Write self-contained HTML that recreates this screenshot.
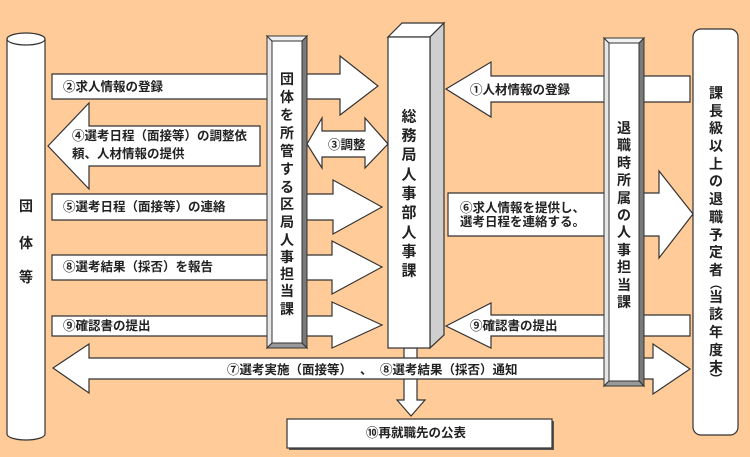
<!DOCTYPE html>
<html><head><meta charset="utf-8"><style>
html,body{margin:0;padding:0;background:#FFCC99;}
svg{display:block;}
text{font-family:"Liberation Sans","Noto Sans CJK JP",sans-serif;fill:#222;font-weight:bold;}
.h{font-size:12.5px;dominant-baseline:central;}
.v{font-size:14px;text-anchor:middle;dominant-baseline:central;}
</style></head><body>
<svg width="750" height="457" viewBox="0 0 750 457" xmlns="http://www.w3.org/2000/svg">
<rect x="0" y="0" width="750" height="457" fill="#FFCC99"/>
<g stroke="#333" stroke-width="1.2" fill="#fff" stroke-linejoin="miter">
<path d="M7,39 V434 A19,6 0 0 0 45,434 V39 Z"/>
<ellipse cx="26" cy="39" rx="19" ry="6"/>
<path d="M52,74 H340 V56 L378,86 L340,115 V99 H52 Z"/>
<path d="M48,146 L89,103 V126 H260 V166 H89 V189 Z"/>
<path d="M52,194 H333 V180 L382,207 L333,234 V220 H52 Z"/>
<path d="M52,255 H332 V241 L382,267 L332,294 V280 H52 Z"/>
<path d="M52,316 H332 V302 L382,325 L332,348 V336 H52 Z"/>
<path d="M404,348 V400 H397 L411,416 L425,400 H417 V348 Z"/>
<path d="M53,368 L89,344 V358 H653 V344 L690,369 L653,394 V379 H89 V393 Z"/>
<path d="M446,89 L491,62 V76 H690 V102 H491 V117 Z"/>
<path d="M448,193 H659 V171 L693,214 L659,258 V236 H448 Z"/>
<path d="M446,326 L491,303 V315 H690 V336 H491 V348 Z"/>
<path d="M307,144 L322,118 V131 H365 V118 L388,144 L365,168 V157 H322 V168 Z"/>
</g>
<g stroke="#333" stroke-width="1">
<rect x="267" y="36" width="40" height="312" fill="#bbb"/>
<polygon points="267,36 272,41 272,343 267,348" fill="#e6e6e6"/>
<polygon points="307,36 302,41 302,343 307,348" fill="#7a7a7a"/>
<polygon points="267,36 307,36 302,41 272,41" fill="#f2f2f2"/>
<polygon points="267,348 307,348 302,343 272,343" fill="#999"/>
<rect x="272" y="41" width="30" height="302" fill="#fff"/>
</g>
<g stroke="#333" stroke-width="1">
<rect x="604" y="38" width="40" height="348" fill="#bbb"/>
<polygon points="604,38 609,43 609,381 604,386" fill="#e6e6e6"/>
<polygon points="644,38 639,43 639,381 644,386" fill="#7a7a7a"/>
<polygon points="604,38 644,38 639,43 609,43" fill="#f2f2f2"/>
<polygon points="604,386 644,386 639,381 609,381" fill="#999"/>
<rect x="609" y="43" width="30" height="338" fill="#fff"/>
</g>
<g stroke="#333" stroke-width="1.2">
<polygon points="388,37 402,23 444,23 430,37" fill="#fff"/>
<polygon points="430,37 444,23 444,335 430,348" fill="#cfcfcf"/>
<rect x="388" y="37" width="42" height="311" fill="#fff"/>
</g>
<rect x="693" y="29" width="45" height="406" rx="8" ry="8" fill="#fff" stroke="#333" stroke-width="1.2"/>
<rect x="289" y="421" width="265" height="29" fill="#555"/>
<rect x="287" y="419" width="265" height="29" fill="#fff" stroke="#333" stroke-width="1.2"/>

<text class="h" x="63" y="87">②求人情報の登録</text>
<text class="h" x="72" y="136">④選考日程（面接等）の調整依</text>
<text class="h" x="72" y="154">頼、人材情報の提供</text>
<text class="h" x="328" y="145">③調整</text>
<text class="h" x="63" y="207">⑤選考日程（面接等）の連絡</text>
<text class="h" x="63" y="267">⑧選考結果（採否）を報告</text>
<text class="h" x="63" y="326">⑨確認書の提出</text>
<text class="h" x="470" y="90">①人材情報の登録</text>
<text class="h" x="460" y="208">⑥求人情報を提供し、</text>
<text class="h" x="460" y="222">選考日程を連絡する。</text>
<text class="h" x="470" y="326">⑨確認書の提出</text>
<text class="h" x="227" y="370">⑦選考実施（面接等）</text>
<text class="h" x="360" y="370">、</text>
<text class="h" x="380" y="370">⑧選考結果（採否）通知</text>
<text class="h" x="366" y="433">⑩再就職先の公表</text>

<text class="v" x="26" y="206">団</text>
<text class="v" x="26" y="243">体</text>
<text class="v" x="26" y="277">等</text>

<g>
<text class="v" x="287" y="79">団</text>
<text class="v" x="287" y="97">体</text>
<text class="v" x="287" y="115">を</text>
<text class="v" x="287" y="133">所</text>
<text class="v" x="287" y="151">管</text>
<text class="v" x="287" y="169">す</text>
<text class="v" x="287" y="187">る</text>
<text class="v" x="287" y="204">区</text>
<text class="v" x="287" y="222">局</text>
<text class="v" x="287" y="240">人</text>
<text class="v" x="287" y="257">事</text>
<text class="v" x="287" y="274">担</text>
<text class="v" x="287" y="291">当</text>
<text class="v" x="287" y="309">課</text>
</g>
<g>
<text class="v" x="409" y="117" style="font-size:15px">総</text>
<text class="v" x="409" y="136" style="font-size:15px">務</text>
<text class="v" x="409" y="155" style="font-size:15px">局</text>
<text class="v" x="409" y="175" style="font-size:15px">人</text>
<text class="v" x="409" y="194" style="font-size:15px">事</text>
<text class="v" x="409" y="213" style="font-size:15px">部</text>
<text class="v" x="409" y="233" style="font-size:15px">人</text>
<text class="v" x="409" y="252" style="font-size:15px">事</text>
<text class="v" x="409" y="271" style="font-size:15px">課</text>
</g>
<g>
<text class="v" x="624" y="128">退</text>
<text class="v" x="624" y="145">職</text>
<text class="v" x="624" y="163">時</text>
<text class="v" x="624" y="180">所</text>
<text class="v" x="624" y="198">属</text>
<text class="v" x="624" y="215">の</text>
<text class="v" x="624" y="232">人</text>
<text class="v" x="624" y="250">事</text>
<text class="v" x="624" y="267">担</text>
<text class="v" x="624" y="285">当</text>
<text class="v" x="624" y="302">課</text>
</g>
<g>
<text class="v" x="716" y="93">課</text>
<text class="v" x="716" y="111">長</text>
<text class="v" x="716" y="128">級</text>
<text class="v" x="716" y="146">以</text>
<text class="v" x="716" y="164">上</text>
<text class="v" x="716" y="181">の</text>
<text class="v" x="716" y="199">退</text>
<text class="v" x="716" y="217">職</text>
<text class="v" x="716" y="235">予</text>
<text class="v" x="716" y="252">定</text>
<text class="v" x="716" y="270">者</text>
<text class="v" x="716" y="284" style="font-size:12px">︵</text>
<text class="v" x="716" y="297">当</text>
<text class="v" x="716" y="314">該</text>
<text class="v" x="716" y="332">年</text>
<text class="v" x="716" y="350">度</text>
<text class="v" x="716" y="367">末</text>
<text class="v" x="716" y="379" style="font-size:12px">︶</text>
</g>
</svg>
</body></html>
